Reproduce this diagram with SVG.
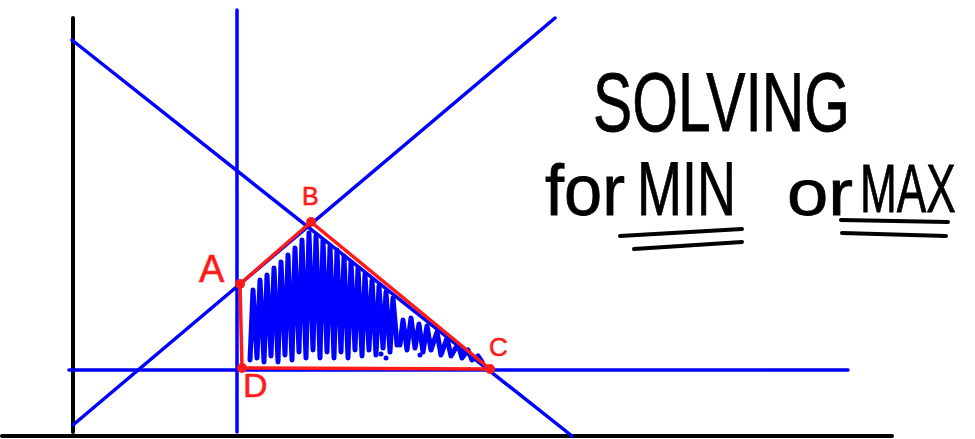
<svg xmlns="http://www.w3.org/2000/svg" width="975" height="439" viewBox="0 0 975 439">
<style>
.ax{stroke:#000;stroke-width:4;stroke-linecap:round;fill:none}
.bl{stroke:#0000ff;stroke-width:3.5;stroke-linecap:round;fill:none}
.sc{stroke:#0000ff;stroke-width:5;stroke-linejoin:round;stroke-linecap:round;fill:none}
.rd{stroke:#ff1a1a;stroke-width:3.5;stroke-linejoin:round;fill:none}
.dot{fill:#ff1a1a}
.lbl{font-family:"Liberation Sans",Arial,sans-serif;fill:#ff1a1a;stroke:#ff1a1a;stroke-width:0.6}
.hw{font-family:"Liberation Sans",Arial,sans-serif;fill:#000;stroke:#000;stroke-width:0.8}
</style>
<rect width="975" height="439" fill="#fff"/>
<g id="axes">
<line class="ax" x1="73" y1="18" x2="73" y2="432"/>
<line class="ax" x1="2" y1="436" x2="892" y2="436"/>
</g>
<g id="constraints">
<line class="bl" x1="237" y1="10" x2="237" y2="432"/>
<line class="bl" x1="69" y1="370" x2="848" y2="370"/>
<line class="bl" x1="72" y1="40" x2="572" y2="436"/>
<line class="bl" x1="73" y1="425" x2="555" y2="18"/>
</g>
<g id="shading">
<polyline class="sc" points="250,360 253,290 257,358 260,280 264,362 267,275 271,356 274,268 278,362 281,262 285,355 288,255 292,360 295,248 299,352 302,240 306,358 309,233 313,350 316,236 320,358 323,240 327,352 330,246 334,358 337,250 341,352 344,256 348,358 351,262 355,350 358,268 362,356 365,274 369,350 372,280 376,355 379,286 383,348 386,292 390,352 393,298 397,345"/>
<polyline class="sc" points="400,345 403,320 407,350 411,318 415,348 419,324 423,352 427,326 431,350 437,332 441,355 447,338 451,356 458,344 462,358 468,350 472,360 478,356 482,362"/>
<circle cx="381" cy="354" r="2.5" fill="#0000ff"/>
<circle cx="386" cy="358" r="2.5" fill="#0000ff"/>
<circle cx="420" cy="355" r="2.5" fill="#0000ff"/>
</g>
<g id="region">
<polygon class="rd" points="240,284 311,222 490,369 242,368"/>
<circle class="dot" cx="240" cy="284" r="5"/>
<circle class="dot" cx="311" cy="222" r="5"/>
<circle class="dot" cx="490" cy="369" r="5"/>
<circle class="dot" cx="242" cy="368" r="5"/>
<text class="lbl" x="199" y="282" font-size="38">A</text>
<text class="lbl" x="302" y="205" font-size="25">B</text>
<text class="lbl" x="489" y="356" font-size="26">C</text>
<text class="lbl" x="243" y="397" font-size="34">D</text>
</g>
<g id="title">
<text class="hw" transform="translate(593,131) scale(0.70,1)" font-size="84">SOLVING</text>
<text class="hw" x="545" y="215" font-size="72" textLength="80" lengthAdjust="spacingAndGlyphs">for</text>
<text class="hw" transform="translate(637,215) scale(0.71,1)" font-size="76">MIN</text>
<text class="hw" x="787" y="215" font-size="64" textLength="66" lengthAdjust="spacingAndGlyphs">or</text>
<text class="hw" transform="translate(860,212) scale(0.65,1)" font-size="68">MAX</text>
<line class="ax" x1="620" y1="236" x2="742" y2="229"/>
<line class="ax" x1="634" y1="249" x2="742" y2="242"/>
<line class="ax" x1="841" y1="220" x2="948" y2="222"/>
<line class="ax" x1="842" y1="233" x2="946" y2="236"/>
</g>
</svg>
